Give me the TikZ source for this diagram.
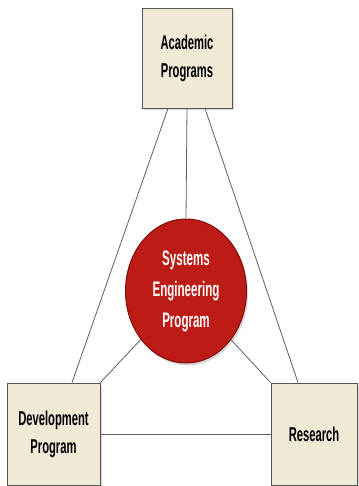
\documentclass[tikz,border=0pt]{standalone}
\usepackage{fontspec}
\usepackage{tikz}
\usetikzlibrary{shapes.geometric,shadows}

\newfontfamily\boxfont[FakeStretch=0.56]{Liberation Sans}
\newfontfamily\circfont[FakeStretch=0.55]{Liberation Sans}

\definecolor{boxfill}{RGB}{239,233,214}
\definecolor{boxline}{RGB}{85,85,85}
\definecolor{circfill}{RGB}{188,27,22}
\definecolor{circline}{RGB}{125,16,12}
\definecolor{linkgray}{RGB}{95,95,95}

\begin{document}
\begin{tikzpicture}[x=1pt,y=-1pt,
    unit/.style={draw=boxline,line width=0.9pt,fill=boxfill,align=center,
        font=\boxfont\bfseries\fontsize{20}{28}\selectfont,
        drop shadow={shadow xshift=1.5pt,shadow yshift=-2.5pt,opacity=0.3}},
    core/.style={ellipse,draw=circline,line width=1pt,fill=circfill,align=center,
        text=white,font=\circfont\bfseries\fontsize{21}{31}\selectfont,
        minimum width=121pt,minimum height=144pt,inner sep=0pt,
        drop shadow={shadow xshift=1.5pt,shadow yshift=-2.5pt,opacity=0.3}},
    link/.style={draw=linkgray,line width=0.8pt}]
    \useasboundingbox (0,0) rectangle (358,486);

    % Boxes
    \node[unit,minimum width=90pt,minimum height=100pt] (acad) at (187,58) {Academic\\Programs};
    \node[unit,minimum width=93pt,minimum height=102pt] (dev) at (53.5,434) {Development\\Program};
    \node[unit,minimum width=86pt,minimum height=102pt] (res) at (314,434) {Research};

    % Center
    \node[core] (sep) at (186,291) {Systems\\Engineering\\Program};

    % Lines
    \draw[link] ([xshift=-19pt]acad.south) -- ([xshift=18.5pt]dev.north);
    \draw[link] ([xshift=18pt]acad.south) -- ([xshift=-16pt]res.north);
    \draw[link] (acad.south) -- (sep.north);
    \draw[link] (sep) -- (dev.north east);
    \draw[link] (sep) -- (res.north west);
    \draw[link] (dev.east) -- (res.west);
\end{tikzpicture}
\end{document}
